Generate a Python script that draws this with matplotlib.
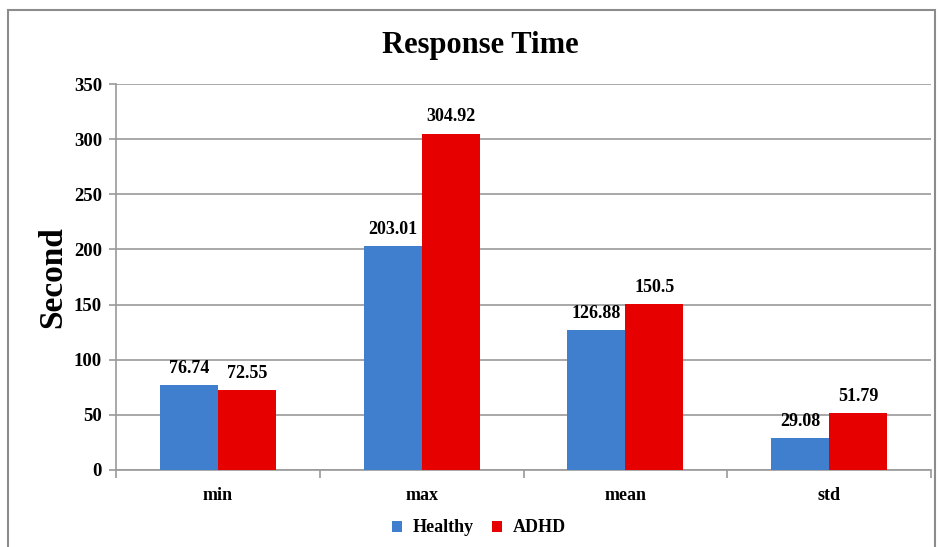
import matplotlib.pyplot as plt
import numpy as np
from matplotlib.patches import Rectangle

# data
categories = ["min", "max", "mean", "std"]
healthy = [76.74, 203.01, 126.88, 29.08]
adhd = [72.55, 304.92, 150.5, 51.79]
yticks = [0, 50, 100, 150, 200, 250, 300, 350]

plt.rcParams["font.family"] = ["Liberation Serif", "DejaVu Serif"]
plt.rcParams["font.weight"] = "bold"

W, H = 939, 547
fig = plt.figure(figsize=(W / 100, H / 100), dpi=100)
ax = fig.add_axes([116 / W, 1 - 470 / H, (931 - 116) / W, (470 - 84) / H])

x = np.arange(len(categories))
bw = 0.285
blue = "#3F7FCD"
red = "#E60000"

b1 = ax.bar(x - bw / 2, healthy, bw, color=blue, label="Healthy", zorder=3)
b2 = ax.bar(x + bw / 2, adhd, bw, color=red, label="ADHD", zorder=3)

for bars, vals in [(b1, healthy), (b2, adhd)]:
    for rect, v in zip(bars, vals):
        ax.annotate(f"{v:g}", (rect.get_x() + rect.get_width() / 2, v),
                    xytext=(0, 6), textcoords="offset points",
                    ha="center", va="bottom", fontsize=13, fontweight="bold")

ax.set_xlim(-0.5, len(categories) - 0.5)
ax.set_ylim(0, 350)
ax.set_yticks(yticks)
ax.set_yticklabels([str(t) for t in yticks], fontsize=13.5, fontweight="bold")
ax.yaxis.grid(True, color="#9a9a9a", linewidth=1.2, zorder=0)
ax.set_axisbelow(True)

# category labels in the middle, tick marks between groups
ax.set_xticks(x)
ax.set_xticklabels(categories, fontsize=13, fontweight="bold")
ax.tick_params(axis="x", length=0, pad=12)
ax.set_xticks(np.arange(-0.5, len(categories)), minor=True)
ax.tick_params(axis="x", which="minor", length=6, color="#9a9a9a", width=1.2)
ax.tick_params(axis="y", length=5, color="#9a9a9a", width=1.2, pad=5)

for s in ["top", "right"]:
    ax.spines[s].set_visible(False)
for s in ["left", "bottom"]:
    ax.spines[s].set_color("#9a9a9a")
    ax.spines[s].set_linewidth(1.2)

ax.set_ylabel("Second", fontsize=24, fontweight="bold", labelpad=4)
fig.text(480 / W, 1 - 46 / H, "Response Time", ha="center", va="center",
         fontsize=22, fontweight="bold")

fig.legend(handles=[b1, b2], loc="center", bbox_to_anchor=(479 / W, 1 - 528 / H),
           ncol=2, frameon=False, handlelength=0.55, handleheight=0.55,
           handletextpad=0.6, columnspacing=1.0, prop={"weight": "bold", "size": 13})

# outer chart border
fig.patches.append(Rectangle((8 / W, -0.05), (935 - 8) / W, 1.05 - 10 / H,
                             transform=fig.transFigure, fill=False,
                             edgecolor="#8c8c8c", linewidth=1.5))

fig.savefig("out.png", dpi=100)
